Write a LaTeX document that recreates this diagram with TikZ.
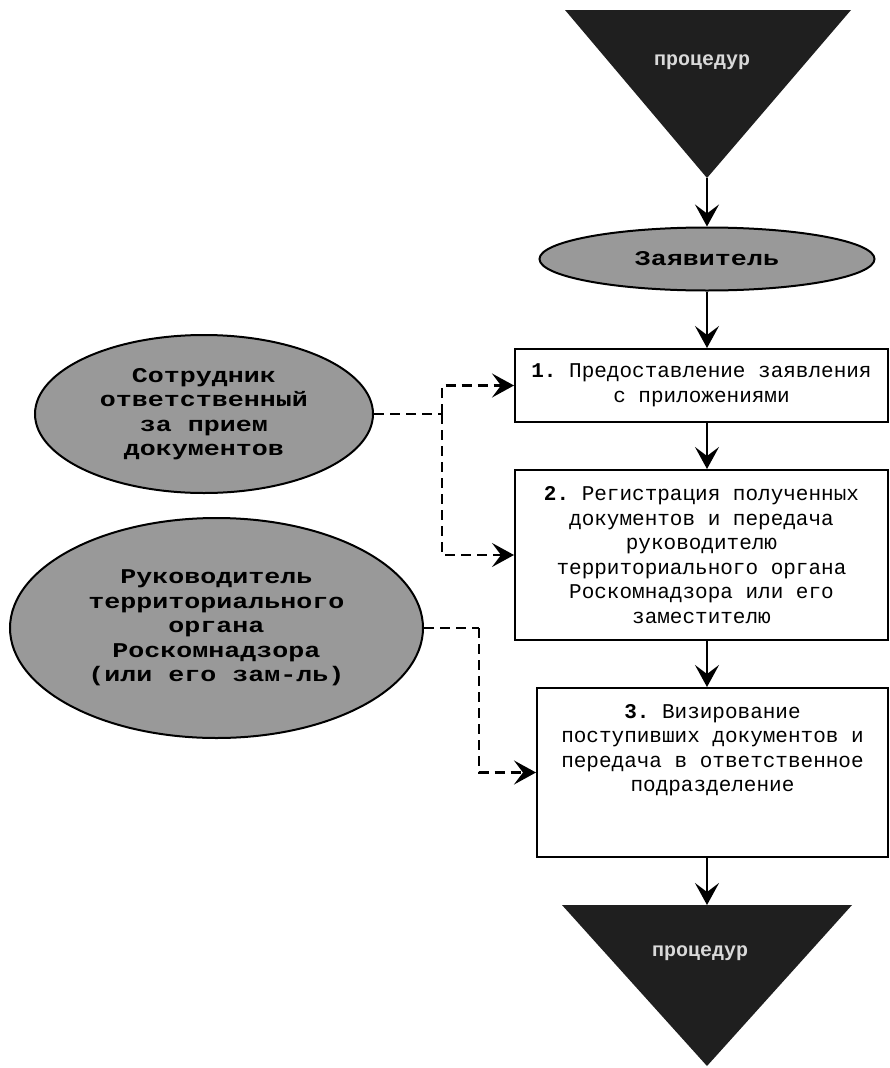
\documentclass[tikz,border=0pt]{standalone}
\usepackage{fontspec}
\setmonofont{Liberation Mono}
\newfontfamily\ellfont[FakeStretch=1.27]{Liberation Mono}
\usetikzlibrary{arrows.meta, shapes.geometric}

\begin{document}
\begin{tikzpicture}[x=1pt, y=-1pt,
  box/.style={draw, line width=2pt, align=center, inner sep=0pt,
    font=\ttfamily\fontsize{21}{24.5}\selectfont},
  oval/.style={ellipse, draw, line width=2pt, fill=black!40, inner sep=0pt,
    align=center, font=\ellfont\bfseries\fontsize{21}{24.5}\selectfont},
  tri/.style={fill=black!88},
  flow/.style={line width=2pt, -{Stealth[length=22pt, width=24pt, inset=9pt]}},
  dashline/.style={line width=2.4pt, dash pattern=on 10pt off 6pt},
  dasharrow/.style={dashline, -{Stealth[length=22pt, width=24pt, inset=9pt]}}]
	\useasboundingbox (0,0) rectangle (890,1068);
	% triangles
	\fill[tri] (565,10) -- (851,10) -- (707,178) coordinate (tr1tip) -- cycle;
	\node[font=\ttfamily\bfseries\fontsize{20}{24}\selectfont, text=white!85!black] (tr1) at (702,62) {процедур};
	\fill[tri] (562,905) -- (852,905) -- (707,1066) -- cycle;
	\coordinate (tr2top) at (707,905);
	\node[font=\ttfamily\bfseries\fontsize{20}{24}\selectfont, text=white!85!black] (tr2) at (700,953) {процедур};
	% ovals
	\node[oval, minimum width=335pt, minimum height=63pt] (zv) at (707,259) {Заявитель};
	\node[oval, minimum width=338pt, minimum height=158pt] (e1) at (204,414)
		{Сотрудник\\ответственный\\за прием\\документов};
	\node[oval, minimum width=413pt, minimum height=220pt] (e2) at (216.5,628)
		{Руководитель\\территориального\\органа\\Роскомнадзора\\(или его зам-ль)};
	% boxes
	\node[box, minimum width=373pt, minimum height=73pt] (b1) at (701.5,385.5)
		{\textbf{1.} Предоставление заявления\\с приложениями};
	\node[box, minimum width=373pt, minimum height=170pt] (b2) at (701.5,555)
		{\textbf{2.} Регистрация полученных\\документов и передача\\руководителю\\территориального органа\\Роскомнадзора или его\\заместителю};
	\node[box, minimum width=351pt, minimum height=169pt] (b3) at (712.5,772.5)
		{\textbf{3.} Визирование\\поступивших документов и\\передача в ответственное\\подразделение\\~\\~};
	% flow
	\draw[flow] (tr1tip) -- (zv.north);
	\draw[flow] (zv.south) -- (zv.south |- b1.north);
	\draw[flow] (zv.south |- b1.south) -- (zv.south |- b2.north);
	\draw[flow] (zv.south |- b2.south) -- (zv.south |- b3.north);
	\draw[flow] (zv.south |- b3.south) -- (tr2top);
	% dashed links
	\draw[dashline] (e1.east) -- (442,414) coordinate (j1);
	\draw[dasharrow] (j1) |- (b1.west);
	\draw[dasharrow] (j1) |- (b2.west);
	\draw[dashline] (e2.east) -- (479,628) coordinate (j2);
	\draw[dasharrow] (j2) |- (b3.west);
\end{tikzpicture}
\end{document}
